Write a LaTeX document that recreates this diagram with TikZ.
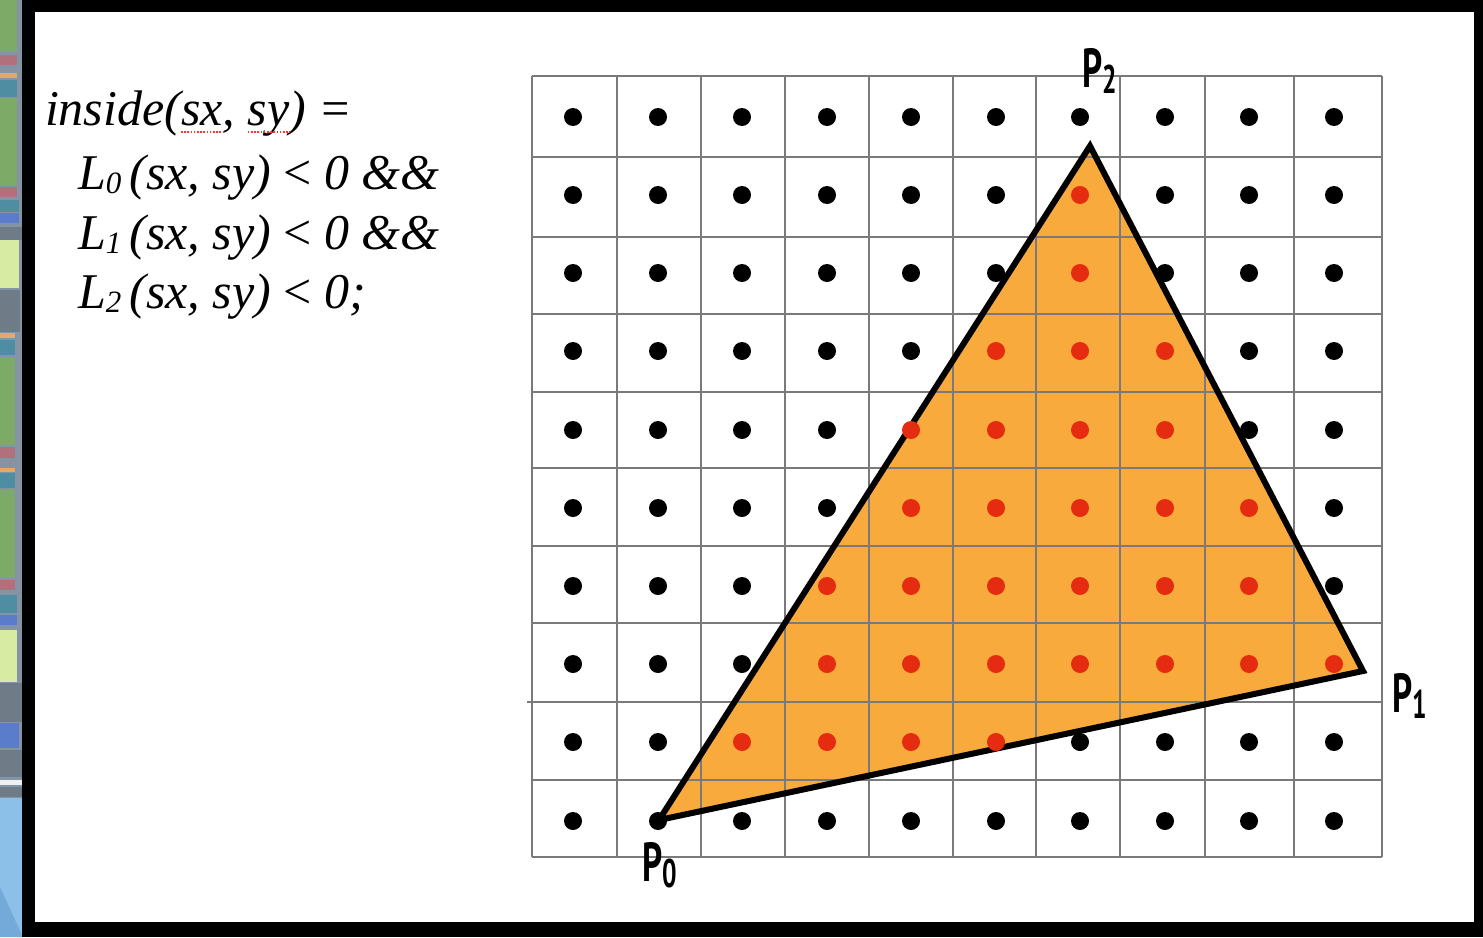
\documentclass[tikz,border=0pt]{standalone}
\usepackage{fontspec}
\setmainfont{Liberation Serif}
\newfontfamily\labfont{PT Sans}
\definecolor{orangefill}{HTML}{F8AB3C}
\definecolor{gridgray}{HTML}{7A7A7A}
\definecolor{reddot}{HTML}{E52B10}
\definecolor{stripbg}{HTML}{8494A4}
\definecolor{sgreen}{HTML}{7DAA66}
\definecolor{spink}{HTML}{B0707C}
\definecolor{sorange}{HTML}{E6A864}
\definecolor{steal}{HTML}{4F8EA2}
\definecolor{sblue}{HTML}{5A7CCB}
\definecolor{sgray}{HTML}{6F7C88}
\definecolor{syellow}{HTML}{D8EBA2}
\definecolor{slblue}{HTML}{8CC0E8}
\definecolor{sdblue}{HTML}{74AADA}
\begin{document}
\begin{tikzpicture}[x=1pt,y=-1pt,
  txt/.style={inner sep=0pt, outer sep=0pt, anchor=base west, font=\fontsize{50}{58}\selectfont\itshape},
  plab/.style={inner sep=0pt, outer sep=0pt, anchor=base west, font=\labfont\bfseries\fontsize{55}{55}\selectfont},
  gridl/.style={draw=gridgray, line width=2.2pt},
  edge/.style={draw=black, line width=6pt, line join=miter},
  spell/.style={draw=red!80!white, line width=1.6pt, dash pattern=on 1.6pt off 1.6pt}]
\useasboundingbox (0,0) rectangle (1483,937);
% left screenshot strip
\fill[stripbg] (0,0) rectangle (22,937);
\foreach \ya/\yb/\xr/\c in {0/52/17/sgreen, 55/65/17/spink, 73/78/17/sorange, 80/97/17/steal,
  98/185/17/sgreen, 187/197/17/spink, 200/212/19/steal, 213/223/19/sblue, 227/240/22/sgray,
  240/288/19/syellow, 290/332/20/sgray, 333/338/15/sorange, 340/355/15/steal, 357/445/15/sgreen,
  447/458/15/spink, 468/472/15/sorange, 473/488/15/steal, 490/578/15/sgreen, 580/590/15/spink,
  595/613/17/steal, 615/625/17/sblue, 630/682/17/syellow, 683/722/22/sgray, 723/748/19/sblue,
  750/777/22/sgray, 787/797/22/sgray, 798/937/22/slblue}
  \fill[\c] (0,\ya) rectangle (\xr,\yb);
\fill[white!85!stripbg] (0,780) rectangle (22,785);
\fill[sdblue] (0,887) -- (22,935) -- (22,937) -- (0,937) -- cycle;
% frame
\fill[black] (22,0) rectangle (1483,937);
\fill[white] (35,12) rectangle (1474,922);
% formula
\node[txt] (i1) at (45,125) {inside(};
\node[txt] (sx) at (i1.base east) {sx};
\node[txt] (i2) at (sx.base east) {,\hspace*{0.25em}};
\node[txt] (sy) at (i2.base east) {sy};
\node[txt] (i3) at (sy.base east) {)\hspace*{0.25em}=};
\draw[spell] ([yshift=-7pt]sx.base west) -- ([yshift=-7pt]sx.base east);
\draw[spell] ([yshift=-7pt]sy.base west) -- ([yshift=-7pt]sy.base east);
\node[txt] (l0) at (78,189) {L\raisebox{-0.08em}{\fontsize{31}{31}\selectfont 0}\,(sx, sy) {\upshape<} 0 \&\&};
\node[txt] (l1) at (78,249) {L\raisebox{-0.08em}{\fontsize{31}{31}\selectfont 1}\,(sx, sy) {\upshape<} 0 \&\&};
\node[txt] (l2) at (78,308) {L\raisebox{-0.08em}{\fontsize{31}{31}\selectfont 2}\,(sx, sy) {\upshape<} 0;};
% triangle
\coordinate (P0) at (659,820);
\coordinate (P1) at (1363,671);
\coordinate (P2) at (1090,146);
\fill[orangefill] (P0) -- (P1) -- (P2) -- cycle;
% grid
\foreach \gx in {532,617,701,785,869,953,1036,1120,1205,1294,1382}
  \draw[gridl] (\gx,76) -- (\gx,857);
\foreach \gy in {76,157,237,314,392,468,546,623,780,857}
  \draw[gridl] (532,\gy) -- (1382,\gy);
\draw[gridl] (527,702) -- (1382,702);
\draw[edge] (P0) -- (P1) -- (P2) -- cycle;
% sample dots
\foreach \row in {0,...,9}{
  \foreach \col in {0,...,9}{
    \pgfmathsetmacro{\dx}{{573,658,742,827,911,996,1080,1165,1249,1334}[\col]}
    \pgfmathsetmacro{\dy}{{117,195,273,351,430,508,586,664,742,821}[\row]}
    \pgfmathtruncatemacro{\lo}{{99,6,6,5,4,4,3,3,2,99}[\row]}
    \pgfmathtruncatemacro{\hi}{{-1,6,6,7,7,8,8,9,5,-1}[\row]}
    \def\dc{black}
    \ifnum\col<\lo\relax\else\ifnum\col>\hi\relax\else\def\dc{reddot}\fi\fi
    \fill[\dc] (\dx,\dy) circle[radius=9pt];
  }
}
% labels
\node[plab] (p2lab) at (1082,87) {\scalebox{0.64}[1]{P\raisebox{-6pt}{\fontsize{40}{40}\selectfont 2}}};
\node[plab] (p1lab) at (1392,712) {\scalebox{0.64}[1]{P\raisebox{-6pt}{\fontsize{40}{40}\selectfont 1}}};
\node[plab] (p0lab) at (642,881) {\scalebox{0.64}[1]{P\raisebox{-6pt}{\fontsize{40}{40}\selectfont 0}}};
\end{tikzpicture}
\end{document}
